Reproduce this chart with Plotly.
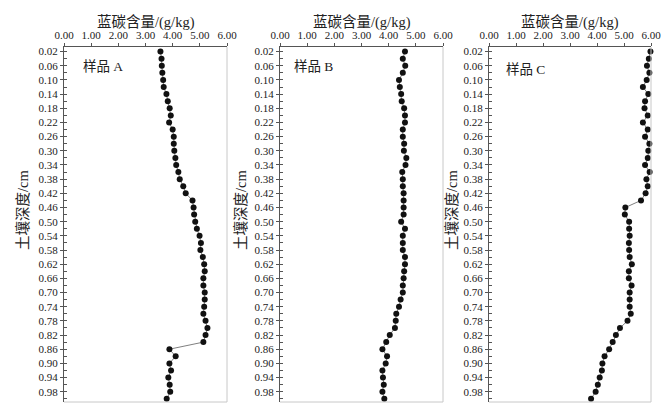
import plotly.graph_objects as go

depth = [round(0.02 * i, 2) for i in range(1, 51)]

sample_a = [3.55, 3.59, 3.60, 3.62, 3.65, 3.67, 3.77, 3.82, 3.89, 3.93,
            3.87, 4.00, 4.04, 4.04, 4.06, 4.10, 4.13, 4.21, 4.26, 4.39,
            4.48, 4.73, 4.77, 4.79, 4.83, 4.89, 4.99, 5.04, 5.02, 5.11,
            5.16, 5.18, 5.13, 5.13, 5.18, 5.18, 5.16, 5.13, 5.21, 5.28,
            5.21, 5.13, 3.88, 4.11, 3.88, 3.94, 3.84, 3.89, 3.91, 3.78]

sample_b = [4.60, 4.52, 4.61, 4.52, 4.38, 4.41, 4.46, 4.48, 4.57, 4.60,
            4.60, 4.52, 4.52, 4.57, 4.56, 4.65, 4.62, 4.50, 4.52, 4.52,
            4.55, 4.55, 4.55, 4.55, 4.46, 4.60, 4.52, 4.52, 4.52, 4.60,
            4.60, 4.57, 4.55, 4.52, 4.52, 4.44, 4.38, 4.28, 4.26, 4.23,
            4.04, 3.91, 3.77, 3.94, 3.89, 3.77, 3.79, 3.82, 3.77, 3.84]

sample_c = [5.98, 5.92, 5.85, 5.94, 5.84, 5.70, 5.90, 5.78, 5.76, 5.88,
            5.70, 5.88, 5.78, 5.94, 5.90, 5.88, 5.78, 5.95, 5.83, 5.88,
            5.80, 5.63, 5.05, 5.03, 5.19, 5.19, 5.21, 5.18, 5.19, 5.21,
            5.29, 5.18, 5.18, 5.28, 5.21, 5.21, 5.21, 5.25, 5.13, 4.85,
            4.70, 4.58, 4.45, 4.28, 4.20, 4.18, 4.10, 4.03, 3.95, 3.78]

series = [("样品 A", sample_a), ("样品 B", sample_b), ("样品 C", sample_c)]

x_ticks = [0, 1, 2, 3, 4, 5, 6]
y_tickvals = [round(0.02 + 0.04 * i, 2) for i in range(25)]
x_title = "蓝碳含量/(g/kg)"
y_title = "土壤深度/cm"

W, H = 670, 415
OFF = 8  # page body margin offset
panels_px = [(64, 227), (280, 443), (489, 651)]
ytitle_px = [23, 241, 452]
label_px = [(81, 67), (292, 67), (504, 70)]
y_top, y_bot = 47, 402
font_fam = '"Liberation Serif", "Times New Roman", "Noto Sans CJK SC", serif'


def px_x(v):
    return (v - OFF) / W


def px_y(v):
    return 1 - (v - OFF) / H


fig = go.Figure()
layout = dict(
    width=W, height=H, margin=dict(l=0, r=0, t=0, b=0),
    paper_bgcolor="white", plot_bgcolor="white", showlegend=False,
    font=dict(family=font_fam, color="#222"),
)
shapes = []
annotations = []
for i, ((name, vals), (x0, x1)) in enumerate(zip(series, panels_px)):
    sfx = "" if i == 0 else str(i + 1)
    fig.add_trace(go.Scatter(
        x=vals, y=depth, mode="lines+markers", xaxis="x" + sfx, yaxis="y" + sfx,
        line=dict(color="#808080", width=1),
        marker=dict(color="#111111", size=6, symbol="circle", line=dict(width=0)),
        cliponaxis=False,
    ))
    layout["xaxis" + sfx] = dict(
        domain=[px_x(x0), px_x(x1)], anchor="y" + sfx, side="top", range=[0, 6],
        tickvals=x_ticks, tickformat=".2f", showgrid=False, zeroline=False,
        showline=True, linecolor="#555", linewidth=1, automargin=False,
        ticks="outside", ticklen=3, tickcolor="#555",
        tickfont=dict(size=11, family=font_fam, color="#222"),
    )
    layout["yaxis" + sfx] = dict(
        domain=[px_y(y_bot), px_y(y_top)], anchor="x" + sfx, range=[1.009, 0.007],
        tickvals=y_tickvals, tickformat=".2f", showgrid=False, zeroline=False,
        showline=True, linecolor="#555", linewidth=1, automargin=False,
        ticks="outside", ticklen=3, tickcolor="#555",
        minor=dict(dtick=0.02, tick0=0.0, ticks="inside", ticklen=3, tickcolor="#555"),
        tickfont=dict(size=11, family=font_fam, color="#222"),
    )
    shapes.append(dict(type="line", xref="x" + sfx + " domain", yref="y" + sfx + " domain",
                       x0=1, x1=1, y0=0, y1=1, line=dict(color="#c8c8c8", width=1)))
    shapes.append(dict(type="line", xref="x" + sfx + " domain", yref="y" + sfx + " domain",
                       x0=0, x1=1, y0=0, y1=0, line=dict(color="#c8c8c8", width=1)))
    # x-axis title
    annotations.append(dict(text=x_title, xref="paper", yref="paper",
                            x=px_x((x0 + x1) / 2), y=px_y(22.5), xanchor="center", yanchor="middle",
                            showarrow=False, font=dict(size=14.5, family=font_fam, color="#222")))
    # y-axis title
    annotations.append(dict(text=y_title, xref="paper", yref="paper", textangle=-90,
                            x=px_x(ytitle_px[i]), y=px_y(210), xanchor="center", yanchor="middle",
                            showarrow=False, font=dict(size=14.5, family=font_fam, color="#222")))
    lx, ly = label_px[i]
    annotations.append(dict(text=name, xref="paper", yref="paper",
                            x=px_x(lx), y=px_y(ly), xanchor="left", yanchor="middle", showarrow=False,
                            font=dict(size=13.5, family=font_fam, color="#222")))

layout["shapes"] = shapes
layout["annotations"] = annotations
fig.update_layout(**layout)
fig.write_html("out.html")
